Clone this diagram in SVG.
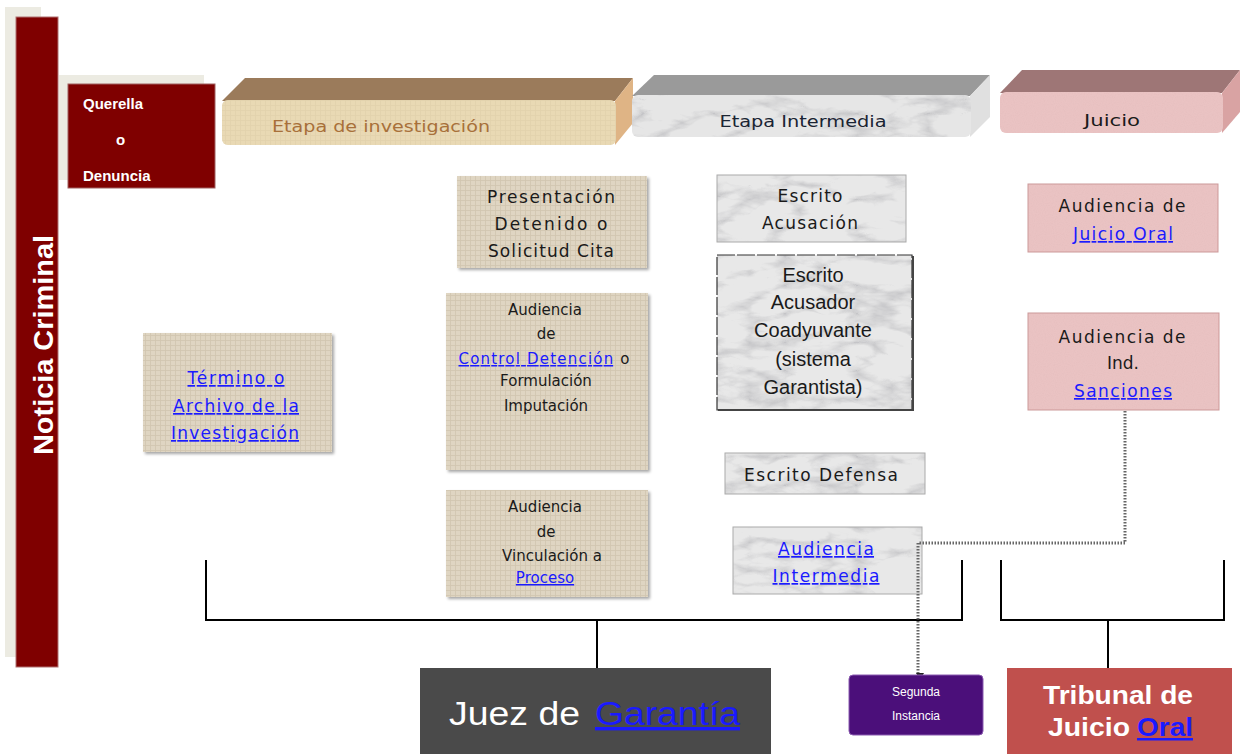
<svg xmlns="http://www.w3.org/2000/svg" width="1241" height="754" viewBox="0 0 1241 754">
<style>
.t{font-family:"DejaVu Sans","Liberation Sans",sans-serif;font-size:17px;fill:#1a1a1a;text-anchor:middle}
.s{font-size:15px}
.a{font-family:"Liberation Sans",Arial,sans-serif;fill:#1a1a1a;text-anchor:middle}
.lk{fill:#1a1aff;text-decoration:underline}
.br{fill:none;stroke:#000;stroke-width:2}
</style>
<defs>
<pattern id="burlap" patternUnits="userSpaceOnUse" width="5" height="5">
<rect width="5" height="5" fill="#dfd5c2"/>
<path d="M0 0.5H5M0.5 0V5" stroke="#c5b9a0" stroke-width="0.8" opacity="0.55"/>
</pattern>
<filter id="marble" x="0" y="0" width="1" height="1">
<feTurbulence type="turbulence" baseFrequency="0.014 0.035" numOctaves="4" seed="7" result="t"/>
<feColorMatrix in="t" type="matrix" values="0 0 0 0 0.5 0 0 0 0 0.5 0 0 0 0 0.52 -2.6 0 0 0 0.8" result="v"/>
<feComposite in="v" in2="SourceAlpha" operator="in" result="vc"/>
<feMerge><feMergeNode in="SourceGraphic"/><feMergeNode in="vc"/></feMerge>
</filter>
<filter id="speck" x="0" y="0" width="1" height="1">
<feTurbulence type="fractalNoise" baseFrequency="0.9" numOctaves="1" seed="3" result="t"/>
<feColorMatrix in="t" type="matrix" values="0 0 0 0 0.75 0 0 0 0 0.5 0 0 0 0 0.5 0.9 0 0 0 -0.35" result="v"/>
<feComposite in="v" in2="SourceAlpha" operator="in" result="vc"/>
<feMerge><feMergeNode in="SourceGraphic"/><feMergeNode in="vc"/></feMerge>
</filter>
<filter id="sh" x="-5%" y="-5%" width="115%" height="120%">
<feDropShadow dx="2" dy="2" stdDeviation="1.5" flood-color="#000" flood-opacity="0.35"/>
</filter>
<marker id="arr" markerWidth="8" markerHeight="8" refX="4" refY="6" orient="auto-start-reverse" markerUnits="userSpaceOnUse" viewBox="0 0 8 8">
<path d="M0 0L8 0L4 7Z" fill="#222" transform="rotate(-90 4 4)"/>
</marker>
</defs>
<rect width="1241" height="754" fill="#fff"/>

<g id="noticia-criminal">
<rect x="5" y="7" width="36" height="650" fill="#ecebe2"/>
<rect x="16" y="17" width="42" height="650" fill="#7f0000" stroke="#b07070" stroke-width="1"/>
<text transform="translate(53,345) rotate(-90)" font-family="Liberation Sans,Arial,sans-serif" font-weight="bold" font-size="28" fill="#fff" text-anchor="middle" textLength="220" lengthAdjust="spacingAndGlyphs">Noticia Criminal</text>
</g>

<g id="querella">
<rect x="59" y="75" width="145" height="105" fill="#ecebe2"/>
<rect x="68" y="84" width="147" height="104" fill="#7f0000" stroke="#a06060" stroke-width="1"/>
<text x="83" y="109" font-family="Liberation Sans,Arial,sans-serif" font-weight="bold" font-size="15" fill="#fff">Querella</text>
<text x="116" y="145" font-family="Liberation Sans,Arial,sans-serif" font-weight="bold" font-size="15" fill="#fff">o</text>
<text x="83" y="181" font-family="Liberation Sans,Arial,sans-serif" font-weight="bold" font-size="15" fill="#fff">Denuncia</text>
</g>

<g id="etapa-investigacion">
<polygon points="222,101 245,78 633,78 615,101" fill="#9b7b5b"/>
<polygon points="615,101 633,78 633,123 615,145" fill="#dfb485"/>
<rect x="222" y="100" width="394" height="45" rx="6" fill="url(#burlap)"/>
<rect x="222" y="100" width="394" height="45" rx="6" fill="#f0dcaa" opacity="0.55"/>
<text x="272" y="132" font-family="DejaVu Sans,sans-serif" font-size="16" fill="#a8703a" textLength="218" lengthAdjust="spacingAndGlyphs">Etapa de investigación</text>
</g>

<g id="etapa-intermedia">
<polygon points="632,96 654,75 990,75 970,96" fill="#9a9a9a"/>
<polygon points="970,96 990,75 990,117 970,137" fill="#e0e0e0"/>
<rect x="632" y="95" width="339" height="42" rx="6" fill="#e6e6e6" filter="url(#marble)"/>
<text x="803" y="127" font-family="DejaVu Sans,sans-serif" font-size="16" fill="#1a2433" text-anchor="middle" textLength="167" lengthAdjust="spacingAndGlyphs">Etapa Intermedia</text>
</g>

<g id="juicio">
<polygon points="1000,93 1022,70 1240,70 1222,93" fill="#9e7676"/>
<polygon points="1222,93 1240,70 1240,112 1222,133" fill="#d9a3a3"/>
<rect x="1000" y="92" width="223" height="41" rx="6" fill="#eac3c3" filter="url(#speck)"/>
<text x="1112" y="126" font-family="DejaVu Sans,sans-serif" font-size="16" fill="#1a1a1a" text-anchor="middle" textLength="56" lengthAdjust="spacingAndGlyphs">Juicio</text>
</g>

<g id="presentacion">
<rect x="457" y="176" width="190" height="92" fill="url(#burlap)" filter="url(#sh)"/>
<text class="t" x="551" y="203" textLength="128" lengthAdjust="spacing">Presentación</text>
<text class="t" x="551" y="230" textLength="113" lengthAdjust="spacing">Detenido o</text>
<text class="t" x="551" y="257" textLength="126" lengthAdjust="spacing">Solicitud Cita</text>
</g>

<g id="control-detencion">
<rect x="446" y="293" width="202" height="177" fill="url(#burlap)" filter="url(#sh)"/>
<text class="t s" x="545" y="315">Audiencia</text>
<text class="t s" x="546" y="339">de</text>
<text class="t s" x="544" y="364" textLength="171" lengthAdjust="spacing"><tspan class="lk">Control Detención</tspan> o</text>
<text class="t s" x="546" y="386">Formulación</text>
<text class="t s" x="546" y="411">Imputación</text>
</g>

<g id="vinculacion">
<rect x="446" y="490" width="202" height="107" fill="url(#burlap)" filter="url(#sh)"/>
<text class="t s" x="545" y="512">Audiencia</text>
<text class="t s" x="546" y="537">de</text>
<text class="t s" x="552" y="561">Vinculación a</text>
<text class="t s lk" x="545" y="583">Proceso</text>
</g>

<g id="termino">
<rect x="143" y="333" width="189" height="119" fill="url(#burlap)" filter="url(#sh)"/>
<text class="t lk" x="236" y="384" textLength="97" lengthAdjust="spacing">Término o</text>
<text class="t lk" x="236" y="412" textLength="126" lengthAdjust="spacing">Archivo de la</text>
<text class="t lk" x="235" y="439" textLength="128" lengthAdjust="spacing">Investigación</text>
</g>

<g id="escrito-acusacion">
<rect x="717" y="175" width="189" height="67" fill="#e8e8e8" filter="url(#marble)"/>
<rect x="717" y="175" width="189" height="67" fill="none" stroke="#aaa" stroke-width="1"/>
<text class="t" x="810" y="202" textLength="65" lengthAdjust="spacing">Escrito</text>
<text class="t" x="810" y="229" textLength="96" lengthAdjust="spacing">Acusación</text>
</g>

<g id="escrito-acusador">
<rect x="717" y="255" width="195" height="155" fill="#e8e8e8" filter="url(#marble)"/>
<rect x="717" y="255" width="195" height="155" fill="none" stroke="#333" stroke-width="1.2" stroke-dasharray="18 2"/>
<path d="M718 410H913V256" fill="none" stroke="#444" stroke-width="2"/>
<text class="a" x="813" y="282" font-size="20">Escrito</text>
<text class="a" x="813" y="309" font-size="20">Acusador</text>
<text class="a" x="813" y="337" font-size="20">Coadyuvante</text>
<text class="a" x="813" y="366" font-size="20">(sistema</text>
<text class="a" x="813" y="394" font-size="20">Garantista)</text>
</g>

<g id="escrito-defensa">
<rect x="725" y="453" width="200" height="41" fill="#e8e8e8" filter="url(#marble)"/>
<rect x="725" y="453" width="200" height="41" fill="none" stroke="#aaa" stroke-width="1"/>
<text class="t" x="821" y="481" textLength="154" lengthAdjust="spacing">Escrito Defensa</text>
</g>

<g id="audiencia-intermedia">
<rect x="733" y="527" width="189" height="67" fill="#e8e8e8" filter="url(#marble)"/>
<rect x="733" y="527" width="189" height="67" fill="none" stroke="#aaa" stroke-width="1"/>
<text class="t lk" x="826" y="555" textLength="96" lengthAdjust="spacing">Audiencia</text>
<text class="t lk" x="826" y="582" textLength="107" lengthAdjust="spacing">Intermedia</text>
</g>

<g id="audiencia-juicio-oral">
<rect x="1028" y="184" width="190" height="68" fill="#eac3c3" filter="url(#speck)"/>
<rect x="1028" y="184" width="190" height="68" fill="none" stroke="#c99" stroke-width="1"/>
<text class="t" x="1122" y="212" textLength="127" lengthAdjust="spacing">Audiencia de</text>
<text class="t lk" x="1123" y="240" textLength="100" lengthAdjust="spacing">Juicio Oral</text>
</g>

<g id="audiencia-sanciones">
<rect x="1028" y="313" width="191" height="97" fill="#eac3c3" filter="url(#speck)"/>
<rect x="1028" y="313" width="191" height="97" fill="none" stroke="#c99" stroke-width="1"/>
<text class="t" x="1122" y="343" textLength="127" lengthAdjust="spacing">Audiencia de</text>
<text class="t" x="1123" y="369">Ind.</text>
<text class="t lk" x="1123" y="397" textLength="98" lengthAdjust="spacing">Sanciones</text>
</g>

<g id="connectors">
<path class="br" d="M206 560V620H962V560M597 620V668"/>
<path class="br" d="M1001 560V620H1224V560M1108 620V668"/>
<path d="M1125 411V543H918V677" fill="none" stroke="#666" stroke-width="3" stroke-dasharray="1.5 1.5" marker-end="url(#arr)"/>
</g>

<g id="juez-garantia">
<rect x="420" y="668" width="351" height="86" fill="#4a4a4a"/>
<text x="449" y="725" font-family="Liberation Sans,Arial,sans-serif" font-size="34" fill="#fff" textLength="131" lengthAdjust="spacingAndGlyphs">Juez de</text>
<text x="595" y="725" font-family="Liberation Sans,Arial,sans-serif" font-size="34" fill="#1a1aff" text-decoration="underline" textLength="145" lengthAdjust="spacingAndGlyphs">Garantía</text>
</g>

<g id="segunda-instancia">
<rect x="849" y="675" width="134" height="60" rx="4" fill="#4b0f7a" stroke="#8a5ab0" stroke-width="1"/>
<text x="916" y="696" font-family="Liberation Sans,Arial,sans-serif" font-size="12" fill="#fff" text-anchor="middle">Segunda</text>
<text x="916" y="720" font-family="Liberation Sans,Arial,sans-serif" font-size="12" fill="#fff" text-anchor="middle">Instancia</text>
</g>

<g id="tribunal-juicio-oral">
<rect x="1007" y="668" width="225" height="86" fill="#c0504d"/>
<text x="1118" y="704" font-family="Liberation Sans,Arial,sans-serif" font-size="25" font-weight="bold" fill="#fff" text-anchor="middle" textLength="150" lengthAdjust="spacingAndGlyphs">Tribunal de</text>
<text x="1048" y="736" font-family="Liberation Sans,Arial,sans-serif" font-size="25" font-weight="bold" fill="#fff" textLength="82" lengthAdjust="spacingAndGlyphs">Juicio</text>
<text x="1137" y="736" font-family="Liberation Sans,Arial,sans-serif" font-size="25" font-weight="bold" fill="#1a1aff" text-decoration="underline" textLength="56" lengthAdjust="spacingAndGlyphs">Oral</text>
</g>
</svg>
